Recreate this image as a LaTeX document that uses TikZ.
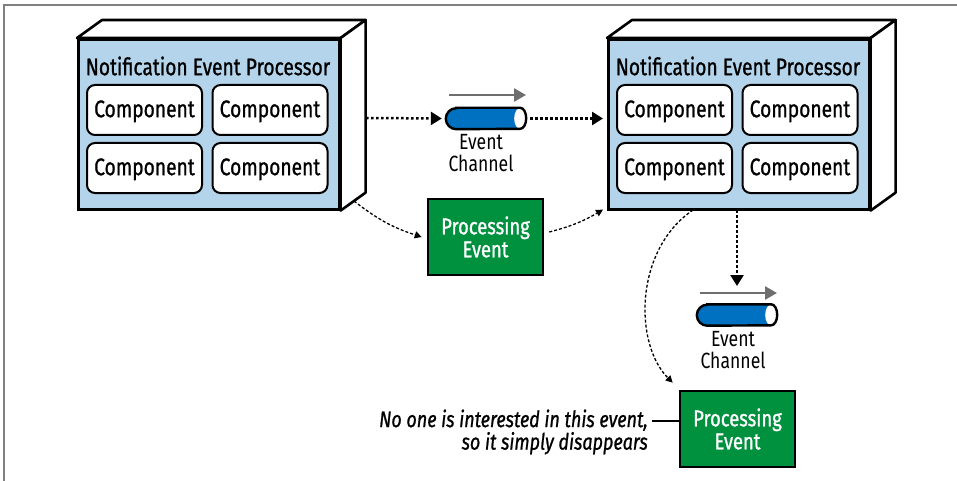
\documentclass[tikz,border=0pt]{standalone}
\usepackage{fontspec}
\setmainfont{Fira Sans}[FakeStretch=0.8]
\newfontfamily\medfont{Fira Sans}[FakeStretch=0.8, FakeBold=0.9]
\usetikzlibrary{arrows.meta,calc}
\definecolor{procblue}{RGB}{179,212,234}
\definecolor{chanblue}{RGB}{0,112,192}
\definecolor{evgreen}{RGB}{0,145,63}
\definecolor{framegray}{RGB}{128,128,128}
\definecolor{flowgray}{RGB}{110,110,110}
\tikzset{
  front/.style={draw, line width=2.6pt, fill=procblue, minimum width=261pt, minimum height=170pt, inner sep=0pt},
  face/.style={draw, line width=2.6pt, fill=white, line join=round},
  ptitle/.style={font=\medfont\fontsize{24}{24}\selectfont, inner sep=0pt},
  comp/.style={draw, line width=2pt, fill=white, rounded corners=8pt, minimum width=115pt, minimum height=50pt, inner sep=0pt, text depth=2.5pt, font=\medfont\fontsize{24}{24}\selectfont},
  evt/.style={draw, line width=2.6pt, fill=evgreen, text=white, minimum width=115pt, minimum height=76pt, inner sep=0pt, align=center, font=\medfont\fontsize{23}{23}\selectfont},
  chan/.style={minimum width=80pt, minimum height=21pt, inner sep=0pt},
  chanlabel/.style={align=center, inner sep=0pt, font=\fontsize{22}{22}\selectfont},
  note/.style={align=right, inner sep=0pt, font=\medfont\itshape\fontsize{22.5}{22.5}\selectfont},
  dotarrow/.style={line width=2.5pt, dash pattern=on 2.5pt off 2.5pt, -{Triangle[length=11pt,width=13pt]}},
  dasharrow/.style={line width=1.3pt, dash pattern=on 3pt off 2pt, -{Triangle[length=7pt,width=7pt]}},
  flow/.style={flowgray, line width=2.5pt, -{Triangle[length=12pt,width=13pt]}},
}
\newcommand{\cylinder}[1]{%
  \fill[chanblue] ($(#1.north west)+(10.5,0)$) -- ($(#1.north east)+(-6,0)$)
     arc[start angle=90, end angle=-90, x radius=6pt, y radius=10.5pt]
     -- ($(#1.south west)+(10.5,0)$)
     arc[start angle=270, end angle=90, radius=10.5pt] -- cycle;
  \fill[white] ($(#1.east)+(-6,0)$) ellipse[x radius=6pt, y radius=10.5pt];
  \draw[line width=2.4pt] ($(#1.north west)+(10.5,0)$) -- ($(#1.north east)+(-6,0)$)
     arc[start angle=90, end angle=-90, x radius=6pt, y radius=10.5pt]
     -- ($(#1.south west)+(10.5,0)$)
     arc[start angle=270, end angle=90, radius=10.5pt] -- cycle;
}
\begin{document}
\begin{tikzpicture}[x=1pt,y=-1pt]
\useasboundingbox (0,0) rectangle (957,481);
\draw[framegray, line width=1.5pt] (4,481) -- (4,5) -- (957,5);

% left processor
\node[front, anchor=north west] (L) at (77,38) {};
\draw[face] (L.north west) -- ++(25,-18) -- ($(L.north east)+(25,-18)$) -- (L.north east) -- cycle;
\draw[face] (L.north east) -- ++(25,-18) -- ($(L.south east)+(25,-18)$) -- (L.south east) -- cycle;
\node[ptitle] (Lt) at (208,66) {Notification Event Processor};
\node[comp] (L11) at (144.5,110) {Component};
\node[comp] (L12) at (270,110) {Component};
\node[comp] (L21) at (144.5,168) {Component};
\node[comp] (L22) at (270,168) {Component};

% right processor
\node[front, anchor=north west] (R) at (607,38) {};
\draw[face] (R.north west) -- ++(25,-18) -- ($(R.north east)+(25,-18)$) -- (R.north east) -- cycle;
\draw[face] (R.north east) -- ++(25,-18) -- ($(R.south east)+(25,-18)$) -- (R.south east) -- cycle;
\node[ptitle] (Rt) at (738,66) {Notification Event Processor};
\node[comp] (R11) at (674.5,110) {Component};
\node[comp] (R12) at (800,110) {Component};
\node[comp] (R21) at (674.5,168) {Component};
\node[comp] (R22) at (800,168) {Component};

% channel 1
\node[chan] (C1) at (486,118.5) {};
\cylinder{C1}
\coordinate (C1a) at (449,95);
\coordinate (C1b) at (526,95);
\draw[flow] (C1a) -- (C1b);
\node[chanlabel] (C1l) at (481,153) {Event\\Channel};

% channel 2
\node[chan] (C2) at (737,315) {};
\cylinder{C2}
\coordinate (C2a) at (700,293);
\coordinate (C2b) at (777,293);
\draw[flow] (C2a) -- (C2b);
\node[chanlabel] (C2l) at (733,350) {Event\\Channel};

% processing events
\node[evt] (E1) at (485.5,237) {Processing\\Event};
\node[evt] (E2) at (737.5,429) {Processing\\Event};

% note
\node[note, anchor=east] (N) at (648,432) {No one is interested in this event,\\so it simply disappears};
\coordinate (Nl) at (652,421);
\draw[line width=1.5pt] (Nl) -- (Nl -| E2.west);

% connectors
\coordinate (Lout) at (366,118);
\draw[dotarrow] (Lout) -- ($(C1.west)+(-4,0)$);
\draw[dotarrow] ($(C1.east)+(4,0)$) -- ($(R.west |- C1)+(-4,0)$);
\coordinate (Rdown) at (737,210);
\coordinate (C2in) at (737,286);
\draw[dotarrow] (Rdown) -- (C2in);
\coordinate (Lcorner) at (354,201);
\draw[dasharrow] (Lcorner) to[bend right=10] ($(E1.west)+(-5,0)$);
\draw[dasharrow] ($(E1.east)+(5,-5)$) to[bend right=8] ($(R.south west)+(-4,-1)$);
\coordinate (Rbot) at (693,210);
\draw[dasharrow] (Rbot) .. controls (634,250) and (634,344) .. ($(E2.north west)+(-6,-7)$);
\end{tikzpicture}
\end{document}
